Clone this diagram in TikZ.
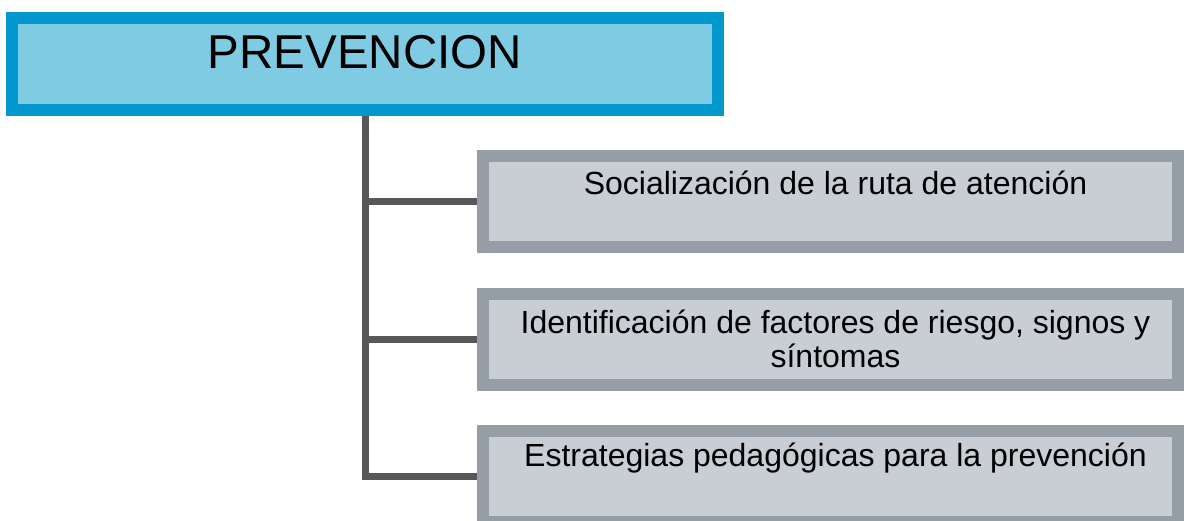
\documentclass[tikz,border=0pt]{standalone}
\usepackage{fontspec}
\setmainfont{Liberation Sans}
\usepackage{xcolor}
\usepackage{tikz}

\definecolor{topedge}{HTML}{0399CE}
\definecolor{topfill}{HTML}{7FCBE4}
\definecolor{itemedge}{HTML}{959DA6}
\definecolor{itemfill}{HTML}{C9CDD4}
\definecolor{trunk}{HTML}{58585A}

\begin{document}
\begin{tikzpicture}[x=1pt, y=-1pt,
        topbox/.style={draw=topedge, fill=topfill, line width=12pt, minimum width=706pt, minimum height=92pt, inner sep=0pt},
        itembox/.style={draw=itemedge, fill=itemfill, line width=12pt, minimum width=695pt, minimum height=91pt, inner sep=0pt},
        itemtext/.style={align=center, inner sep=0pt, font=\fontsize{32}{34}\selectfont},
        branch/.style={draw=trunk, line width=7pt}]
        \useasboundingbox (0,0) rectangle (1184,520);
        % top box
        \node[topbox] (prev) at (365,64) {};
        \node[inner sep=0pt, font=\fontsize{47.5}{56}\selectfont] (prevtext) at ([yshift=12pt]prev.center) {PREVENCION};
        % items
        \node[itembox] (s1) at (830.5,201.5) {};
        \node[itembox] (s2) at (830.5,339) {};
        \node[itembox] (s3) at (830.5,476.5) {};
        \node[itemtext] (t1) at ([xshift=5pt, yshift=18.5pt]s1.center) {Socialización de la ruta de atención};
        \node[itemtext] (t2) at ([xshift=5pt]s2.center) {Identificación de factores de riesgo, signos y\\síntomas};
        \node[itemtext] (t3) at ([xshift=5pt, yshift=18.5pt]s3.center) {Estrategias pedagógicas para la prevención};
        % connectors
        \draw[branch] (prev.south) -- (prev.south |- s3.west) -- (s3.west);
        \draw[branch] (prev.south |- s1.west) -- (s1.west);
        \draw[branch] (prev.south |- s2.west) -- (s2.west);
    \end{tikzpicture}
\end{document}
